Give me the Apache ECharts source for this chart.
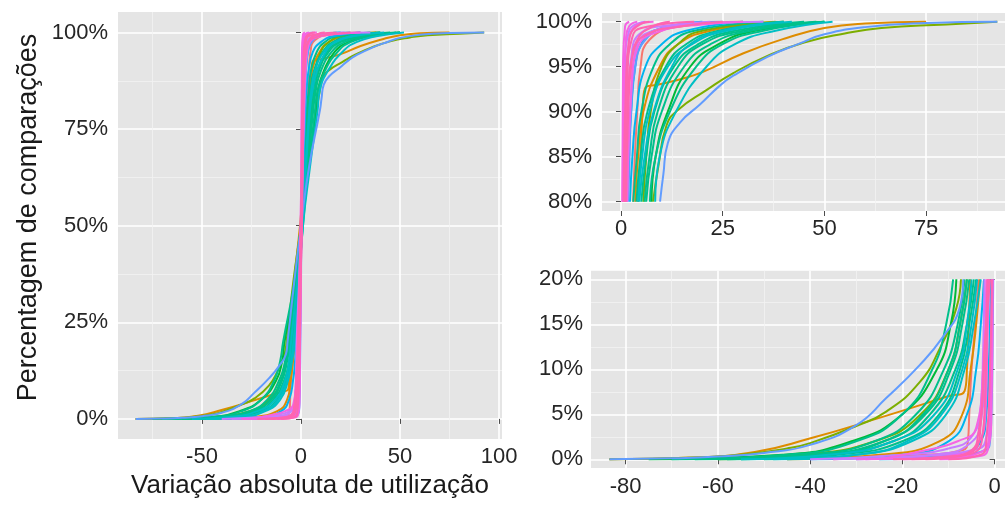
<!DOCTYPE html>
<html><head><meta charset="utf-8">
<script src="https://cdn.jsdelivr.net/npm/echarts@6/dist/echarts.min.js"></script>
<style>html,body{margin:0;padding:0;background:#fff}#c{width:1005px;height:505px}</style>
</head><body><div id="c"></div>
<script>
// ---------- tick labels ----------
const xTicksLeft = [-50, 0, 50, 100];
const yTicksLeft = [0, 25, 50, 75, 100];
const xMinorLeft = [-75, -25, 25, 75];
const yMinorLeft = [12.5, 37.5, 62.5, 87.5];
const xTicksTop = [0, 25, 50, 75];
const yTicksTop = [80, 85, 90, 95, 100];
const xMinorTop = [12.5, 37.5, 62.5, 87.5];
const yMinorTop = [82.5, 87.5, 92.5, 97.5];
const xTicksBottom = [-80, -60, -40, -20, 0];
const yTicksBottom = [0, 5, 10, 15, 20];
const xMinorBottom = [-70, -50, -30, -10];
const yMinorBottom = [2.5, 7.5, 12.5, 17.5];

// ---------- ECDF curves: [variação, % comparações] ----------
const orangeCurves = [
  [[-83.5,0],[-65,0.2],[-52,0.8],[-40.1,2.3],[-25,4.6],[-10.1,7],[-6.5,7.6],[-6,10],[-5.6,15],[-5.3,20],[-3.5,35],[-0.5,50],[2,65],[4.2,80],[4.8,85],[5.3,90],[5.9,92.6],[9,93],[13.7,93.5],[20,94.4],[30.1,96.5],[40.7,98.2],[50,99.3],[60,99.8],[75,100]],
  [[-45,0],[-25,0.5],[-12,2],[-7,5],[-5.2,10],[-4,15],[-3.2,20],[-1.2,35],[0.3,50],[2,65],[3.5,80],[4.2,85],[5.5,90],[9.5,95],[14,97.5],[22,99],[38,100]]
];
const redCurves = [
  [[-35,0],[-15,0.5],[-7,1],[-5.8,2],[-5.5,5],[-5,10],[-4.2,15],[-3.5,20],[-1.5,35],[0,50],[1.5,65],[3,80],[3.4,85],[4,90],[4.8,95],[7,98],[15,99.5],[30,100]]
];
const greenCurves = [
  [[-83.5,0],[-65,0.2],[-55,0.5],[-45,1.2],[-40,1.8],[-30,3.7],[-23.5,5.3],[-16.2,8.6],[-11.9,12.3],[-8.3,16.8],[-7.3,20],[-4,35],[0,50],[3.5,65],[7.9,80],[9.2,84],[11.2,88.5],[14,90.2],[21,92.4],[27.6,94.3],[36,96.2],[45,97.7],[55,98.7],[64,99.3],[80,99.7],[92.5,100]],
  [[-60,0],[-42,0.5],[-26,2],[-16,5],[-10,10],[-7.5,15],[-6,20],[-2,35],[0.5,50],[3,65],[5.5,80],[6.2,85],[7.3,90],[10,95],[14,97.5],[20,99],[40,100]]
];
const green2Curves = [
  [[-75,0],[-46,0.5],[-31,2],[-20,5],[-12.5,10],[-9.5,15],[-8.3,20],[-3,35],[0,50],[4,65],[7.5,80],[8.5,85],[11.5,90],[17,95],[24,97.5],[33,99],[50,100]]
];
const tealCurves = [
  [[-60,0],[-38,0.5],[-22,2],[-14,5],[-8.5,10],[-6,15],[-4.5,20],[-1.5,35],[0.5,50],[2,65],[3,80],[3.9,85],[5,90],[8,95],[12,97.5],[18,99],[35,100]],
  [[-55,0],[-40,0.5],[-26,2],[-17,5],[-11,10],[-8,15],[-6.5,20],[-2.5,35],[0.3,50],[2.5,65],[3.8,80],[4.8,85],[6.5,90],[11,95],[16,97.5],[24,99],[40,100]],
  [[-70,0],[-45,0.5],[-30,2],[-20,5],[-13.5,10],[-10.5,15],[-9,20],[-3.5,35],[0,50],[3,65],[5,80],[6.2,85],[8.2,90],[13,95],[19,97.5],[28,99],[45,100]],
  [[-50,0],[-34,0.5],[-20,2],[-12,5],[-7.5,10],[-5.5,15],[-4,20],[-1.5,35],[1,50],[3.5,65],[6.2,80],[7.5,85],[10,90],[15.5,95],[22,97.5],[32,99],[50,100]],
  [[-65,0],[-40,0.5],[-24,2],[-15.5,5],[-10,10],[-7.5,15],[-6,20],[-2,35],[0.5,50],[4,65],[7.1,80],[8.5,85],[12,90],[18.5,95],[25,97.5],[35,99],[50,100]],
  [[-58,0],[-36,0.5],[-24,2],[-15,5],[-9.5,10],[-7,15],[-5.5,20],[-2,35],[0.5,50],[3,65],[5.8,80],[7,85],[9,90],[14,95],[20,97.5],[30,99],[48,100]]
];
const cyanCurves = [
  [[-45,0],[-30,0.5],[-18,2],[-10.5,5],[-6.5,10],[-4.5,15],[-3,20],[-1,35],[1,50],[4.5,65],[8.4,80],[9.5,85],[13.5,90],[21,95],[28,97.5],[38,99],[52,100]],
  [[-55,0],[-36,0.5],[-22,2],[-13,5],[-8,10],[-6,15],[-5,20],[-2,35],[0.5,50],[2.5,65],[4.5,80],[5.8,85],[8,90],[12.5,95],[17,97.5],[25,99],[40,100]],
  [[-48,0],[-30,0.5],[-19,2],[-11.5,5],[-7,10],[-5,15],[-3.8,20],[-1.2,35],[0.8,50],[2.2,65],[4.2,80],[5.2,85],[7,90],[11.5,95],[17.5,97.5],[26,99],[42,100]]
];
const skyCurves = [
  [[-40,0],[-20,0.5],[-10,2],[-6,5],[-4,10],[-3,15],[-2.3,20],[-1,35],[0.2,50],[1.2,65],[2.2,80],[2.8,85],[3.8,90],[6,95],[10,97.5],[16,99],[30,100]],
  [[-25,0],[-8,0.5],[-3,2],[-1.8,5],[-1.3,10],[-1,15],[-0.8,20],[-0.3,35],[0.2,50],[0.8,65],[1.5,80],[1.9,85],[2.5,90],[3.5,95],[5,97.5],[8,99],[20,100]]
];
const blueCurves = [
  [[-83.5,0],[-70,0.1],[-60,0.3],[-50,0.7],[-40,1.6],[-30,3.8],[-23.5,6.8],[-16.2,10.5],[-11.2,13.6],[-7.6,16.8],[-6.8,20],[-3.5,35],[0,50],[4,65],[9.6,80],[10.4,83],[11.5,86.5],[14.5,88.8],[19.4,90.8],[24.3,92.9],[27.6,94],[36,96.1],[44,97.6],[50,98.6],[60,99.4],[75,99.85],[92.5,100]],
  [[-30,0],[-8,0.5],[-2,1],[-1,2],[-0.7,5],[-0.5,10],[-0.3,20],[0,35],[0.2,50],[0.8,65],[1.8,80],[2.1,85],[2.5,90],[3.5,95],[6,98],[12,99.5],[25,100]]
];
const purpleCurves = [
  [[-40,0],[-20,0.5],[-10,1.2],[-5,2.5],[-3,6],[-2.5,12],[-2.2,20],[-1,35],[0,50],[0.8,65],[1.5,80],[2,88],[2.8,94],[4,97.5],[8,99],[20,99.8],[35,100]],
  [[-28,0],[-12,0.6],[-6,1.5],[-3,4],[-1.8,12],[-1.2,20],[-0.5,35],[0.3,50],[0.7,65],[1,80],[1.6,90],[2.5,96],[5,98.8],[12,99.6],[22,100]],
  [[-35,0],[-15,0.4],[-5,1],[-2,2],[-1,8],[-0.6,20],[-0.2,35],[0.2,50],[0.4,65],[0.5,80],[1,95],[2,99],[6,100]]
];
const magentaCurves = [
  [[-30,0],[-10,0.2],[-3,0.8],[-1.2,3],[-0.8,10],[-0.5,20],[-0.2,35],[0,50],[0.2,65],[0.4,80],[0.7,92],[1.2,98],[2,99.5],[4,100]],
  [[-20,0],[-8,0.5],[-4,1.5],[-2,5],[-1.6,12],[-1.3,20],[-0.8,35],[-0.3,50],[0.3,65],[0.8,80],[1.2,92],[1.8,97],[3,99.3],[8,100]],
  [[-25,0],[-15,1],[-8,2],[-4,3.5],[-2.5,10],[-1.8,20],[-0.8,35],[0.2,50],[0.8,65],[1.5,80],[2.5,92],[4,97],[10,99],[20,99.7],[30,100]],
  [[-12,0],[-4,0.3],[-1.5,1],[-0.7,5],[-0.4,20],[-0.1,35],[0.2,50],[0.25,65],[0.3,80],[0.5,95],[1,99.5],[2,100]]
];
const pinkCurves = [
  [[-18,0],[-6,0.5],[-2.8,2],[-2,8],[-1.5,20],[-0.7,35],[0,50],[0.5,65],[1,80],[1.8,92],[3,96.5],[6,98.5],[15,99.5],[25,100]],
  [[-15,0],[-5,0.8],[-3,4],[-2.2,12],[-1,20],[-0.3,35],[0.5,50],[0.8,65],[1.2,80],[1.8,90],[2.5,95],[4,98],[8,99.5],[12,100]],
  [[-22,0],[-10,0.3],[-5,1],[-3.5,3],[-2.5,8],[-1.5,20],[-0.6,35],[0,50],[0.3,65],[0.6,80],[1.2,93],[2,98],[5,99.8],[7,100]],
  [[-10,0],[-3,0.5],[-1.8,2],[-1,10],[-0.6,20],[-0.2,35],[0.3,50],[0.6,65],[0.9,80],[1.6,94],[2.8,98.3],[5,99.3],[18,100]]
];

const groups = [
  {curves: redCurves, color: '#F8766D'},
  {curves: orangeCurves, color: '#DE8C00'},
  {curves: greenCurves, color: '#7CAE00'},
  {curves: green2Curves, color: '#00BA38'},
  {curves: tealCurves, color: '#00C08B'},
  {curves: cyanCurves, color: '#00BFC4'},
  {curves: skyCurves, color: '#00B4F0'},
  {curves: blueCurves, color: '#619CFF'},
  {curves: purpleCurves, color: '#C77CFF'},
  {curves: magentaCurves, color: '#F564E3'},
  {curves: pinkCurves, color: '#FF64B0'}
];

const FONT = "'Liberation Sans', Arial, sans-serif";
const panels = [
  {grid:{left:118, top:12, width:384, height:427}, x:[-92.4,101.5], y:[-5.2,105.3],
   xt:xTicksLeft, yt:yTicksLeft, xm:xMinorLeft, ym:yMinorLeft, keep: p => true, xMargin:7, yMargin:10},
  {grid:{left:602, top:13, width:412, height:198}, x:[-4.67,96.6], y:[78.97,100.97],
   xt:xTicksTop, yt:yTicksTop, xm:xMinorTop, ym:yMinorTop, keep: p => p[1] >= 80, xMargin:7, yMargin:10},
  {grid:{left:591, top:270.7, width:423, height:197.3}, x:[-87.5,4.2], y:[-0.97,20.96],
   xt:xTicksBottom, yt:yTicksBottom, xm:xMinorBottom, ym:yMinorBottom, keep: p => p[1] <= 20, xMargin:8, yMargin:8}
];

const grid = [], xAxis = [], yAxis = [], series = [];
panels.forEach((pn, i) => {
  grid.push(Object.assign({show:true, backgroundColor:'#E5E5E5', borderWidth:0,
    containLabel:false, outerBoundsMode:'none'}, pn.grid));
  const labelStyle = {fontFamily: FONT, fontSize: 22, color: '#262626'};
  // minor axes (grid lines only)
  xAxis.push({gridIndex:i, type:'value', position:'bottom', min:pn.x[0], max:pn.x[1],
    axisLine:{show:false}, axisLabel:{show:false}, axisTick:{show:false, customValues:pn.xm},
    splitLine:{show:true, lineStyle:{color:'#F2F2F2', width:0.8}}});
  yAxis.push({gridIndex:i, type:'value', position:'left', min:pn.y[0], max:pn.y[1],
    axisLine:{show:false}, axisLabel:{show:false}, axisTick:{show:false, customValues:pn.ym},
    splitLine:{show:true, lineStyle:{color:'#F2F2F2', width:0.8}}});
  // major axes
  const xa = {gridIndex:i, type:'value', position:'bottom', min:pn.x[0], max:pn.x[1],
    axisLine:{show:false},
    axisTick:{show:true, length:5, customValues:pn.xt, lineStyle:{color:'#4D4D4D', width:1}},
    axisLabel:Object.assign({margin:pn.xMargin, customValues:pn.xt}, labelStyle),
    splitLine:{show:true, lineStyle:{color:'#FFFFFF', width:1.6}}};
  const ya = {gridIndex:i, type:'value', position:'left', min:pn.y[0], max:pn.y[1],
    axisLine:{show:false},
    axisTick:{show:true, length:5, customValues:pn.yt, lineStyle:{color:'#4D4D4D', width:1}},
    axisLabel:Object.assign({margin:pn.yMargin, customValues:pn.yt, formatter:'{value}%'}, labelStyle),
    splitLine:{show:true, lineStyle:{color:'#FFFFFF', width:1.6}}};
  if (i === 0) {
    xa.name = 'Variação absoluta de utilização';
    xa.nameLocation = 'middle'; xa.nameGap = 30;
    xa.nameTextStyle = {fontFamily: FONT, fontSize: 26, color: '#1A1A1A'};
    ya.name = 'Percentagem de comparações';
    ya.nameLocation = 'middle'; ya.nameGap = 76; ya.nameRotate = 90;
    ya.nameTextStyle = {fontFamily: FONT, fontSize: 27, color: '#1A1A1A', padding:[0,0,0,16]};
  }
  xAxis.push(xa); yAxis.push(ya);
  groups.forEach(g => {
    g.curves.forEach(c => {
      series.push({type:'line', xAxisIndex: 2*i+1, yAxisIndex: 2*i+1,
        data: c.filter(pn.keep), showSymbol:false, symbol:'none', silent:true,
        smooth:0.5, clip:true,
        lineStyle:{color:g.color, width:2}, z:3});
    });
  });
});

const chart = echarts.init(document.getElementById('c'), null, {renderer:'canvas'});
chart.setOption({animation:false, backgroundColor:'#fff', grid, xAxis, yAxis, series});
</script></body></html>
